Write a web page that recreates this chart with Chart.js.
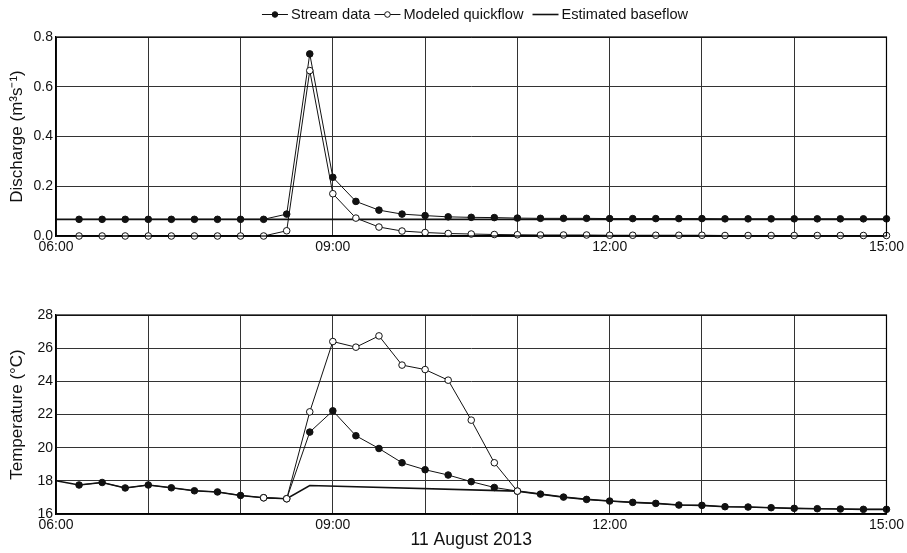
<!DOCTYPE html>
<html>
<head>
<meta charset="utf-8">
<script src="https://cdn.jsdelivr.net/npm/chart.js@4/dist/chart.umd.min.js"></script>
<style>
  html, body { margin: 0; padding: 0; background: #fff; }
  #wrap { position: relative; width: 907px; height: 553px; background: #fff; }
  canvas { position: absolute; left: 0; }
</style>
</head>
<body>
<div id="wrap">
  <canvas id="discharge" width="907" height="270" style="top:0"></canvas>
  <canvas id="temperature" width="907" height="283" style="top:270px"></canvas>
</div>
<script>
// Sampling times (15-minute interval), 11 August 2013
const sampleTimes = ['06:15','06:30','06:45','07:00','07:15','07:30','07:45','08:00','08:15','08:30',
  '08:45','09:00','09:15','09:30','09:45','10:00','10:15','10:30','10:45','11:00',
  '11:15','11:30','11:45','12:00','12:15','12:30','12:45','13:00','13:15','13:30',
  '13:45','14:00','14:15','14:30','14:45','15:00'];

// Discharge (m3 s-1)
const streamDischarge = [0.067,0.067,0.067,0.067,0.067,0.067,0.067,0.067,0.067,0.088,
  0.732,0.236,0.139,0.104,0.088,0.082,0.077,0.075,0.074,0.072,
  0.071,0.071,0.071,0.070,0.070,0.070,0.070,0.070,0.069,0.069,
  0.069,0.069,0.069,0.069,0.069,0.069];
const quickflowDischarge = [0,0,0,0,0,0,0,0,0,0.021,
  0.665,0.170,0.072,0.036,0.020,0.014,0.010,0.008,0.006,0.005,
  0.004,0.004,0.004,0.003,0.003,0.003,0.003,0.003,0.002,0.002,
  0.002,0.002,0.002,0.002,0.002,0.002];
const baseflowDischargeTimes = ['06:00','15:00'];
const baseflowDischarge = [0.067,0.067];

// Temperature (°C)
const streamTemperature = [17.75,17.90,17.57,17.75,17.58,17.40,17.33,17.12,16.98,16.92,
  20.94,22.22,20.72,19.95,19.09,18.67,18.35,17.95,17.60,17.38,
  17.20,17.02,16.88,16.78,16.70,16.64,16.54,16.52,16.44,16.42,
  16.38,16.34,16.32,16.30,16.28,16.28];
const quickflowTempTimes = ['08:15','08:30','08:45','09:00','09:15','09:30','09:45','10:00','10:15','10:30','10:45','11:00'];
const quickflowTemperature = [16.98,16.92,22.16,26.40,26.06,26.74,24.98,24.71,24.07,21.66,19.09,17.38];
const baseflowTempTimes = ['06:00','06:15','06:30','06:45','07:00','07:15','07:30','07:45','08:00','08:15',
  '08:30','08:45','11:00','11:15','11:30','11:45','12:00','12:15','12:30','12:45',
  '13:00','13:15','13:30','13:45','14:00','14:15','14:30','14:45','15:00'];
const baseflowTemperature = [18.00,17.75,17.90,17.57,17.75,17.58,17.40,17.33,17.12,16.98,
  16.92,17.72,17.38,17.20,17.02,16.88,16.78,16.70,16.64,16.54,
  16.52,16.44,16.42,16.38,16.34,16.32,16.30,16.28,16.28];

// Axis ticks
const hourTicks = [6, 7, 8, 9, 10, 11, 12, 13, 14, 15];
const labelledHours = [6, 9, 12, 15];
const dischargeTicks = [0, 0.2, 0.4, 0.6, 0.8];
const temperatureTicks = [16, 18, 20, 22, 24, 26, 28];

const FONT = "'Liberation Sans', Arial, Helvetica, sans-serif";
const INK = '#111';

function toHours(t) {
  const [h, m] = t.split(':').map(Number);
  return h + m / 60;
}
function pairs(times, values) {
  return times.map((t, i) => ({ x: toHours(t), y: values[i] }));
}
function hourLabel(v) {
  return labelledHours.includes(v) ? String(v).padStart(2, '0') + ':00' : '';
}

function series(label, points, kind, order) {
  const base = {
    label, data: points, order, clip: false,
    borderColor: INK, borderWidth: 1, tension: 0,
    pointRadius: 3.3, pointHoverRadius: 3.3, pointBorderWidth: 1, pointBorderColor: INK
  };
  if (kind === 'filled') return Object.assign(base, { pointBackgroundColor: INK });
  if (kind === 'open') return Object.assign(base, { pointBackgroundColor: '#fff' });
  return Object.assign(base, { borderWidth: 1.6, pointRadius: 0, pointHoverRadius: 0 });
}

// Legend drawn across the top of the discharge panel
const legendPlugin = {
  id: 'topLegend',
  afterDraw(chart) {
    const ctx = chart.ctx;
    ctx.save();
    ctx.font = '14.6px ' + FONT;
    ctx.textBaseline = 'middle';
    ctx.fillStyle = INK;
    ctx.strokeStyle = INK;
    const items = [
      { text: 'Stream data', marker: 'filled', lineW: 1 },
      { text: 'Modeled quickflow', marker: 'open', lineW: 1 },
      { text: 'Estimated baseflow', marker: null, lineW: 1.6 }
    ];
    const symW = 26, symGap = 3, itemGap = [4, 9];
    let total = 0;
    items.forEach((it, i) => {
      it.w = ctx.measureText(it.text).width;
      total += symW + symGap + it.w + (i < items.length - 1 ? itemGap[i] : 0);
    });
    let x = 475 - total / 2;
    const y = 14.5;
    items.forEach((it, i) => {
      ctx.lineWidth = it.lineW;
      ctx.beginPath();
      ctx.moveTo(x, y);
      ctx.lineTo(x + symW, y);
      ctx.stroke();
      if (it.marker) {
        ctx.beginPath();
        ctx.arc(x + symW / 2, y, 2.8, 0, Math.PI * 2);
        ctx.fillStyle = it.marker === 'filled' ? INK : '#fff';
        ctx.fill();
        ctx.lineWidth = 1;
        ctx.stroke();
        ctx.fillStyle = INK;
      }
      x += symW + symGap;
      ctx.fillText(it.text, x, y);
      x += it.w + (i < items.length - 1 ? itemGap[i] : 0);
    });
    ctx.restore();
  }
};

function makeChart(id, datasets, yTicks, yTitle, opts) {
  return new Chart(document.getElementById(id), {
    type: 'line',
    data: { datasets },
    plugins: opts.plugins || [],
    options: {
      responsive: false,
      animation: false,
      devicePixelRatio: 1,
      layout: { padding: { left: 0, right: 20, top: opts.top, bottom: 0 } },
      plugins: { legend: { display: false }, tooltip: { enabled: false } },
      scales: {
        x: {
          type: 'linear', min: 6, max: 15,
          afterBuildTicks: s => { s.ticks = hourTicks.map(v => ({ value: v })); },
          afterFit: s => { s.height = opts.xHeight; },
          grid: { color: '#333', lineWidth: 1, drawTicks: false },
          border: { color: '#000', width: 1.2 },
          ticks: {
            autoSkip: false, maxRotation: 0, padding: 3, color: INK,
            font: { family: FONT, size: 14 },
            callback: v => hourLabel(v)
          },
          title: opts.xTitle ? {
            display: true, text: opts.xTitle, color: INK,
            font: { family: FONT, size: 17.5 }, padding: { top: 0, bottom: 2 }
          } : { display: false }
        },
        y: {
          min: yTicks[0], max: yTicks[yTicks.length - 1],
          afterBuildTicks: s => { s.ticks = yTicks.map(v => ({ value: v })); },
          afterFit: s => { s.width = 56; },
          grid: { color: '#333', lineWidth: 1, drawTicks: false },
          border: { color: '#000', width: 1.2 },
          ticks: {
            padding: 3, color: INK,
            font: { family: FONT, size: 14 },
            callback: opts.yFormat
          },
          title: {
            display: true, text: yTitle, color: INK,
            font: { family: FONT, size: 17 }, padding: { top: 7, bottom: 0 }
          }
        }
      }
    }
  });
}

// Right-hand frame line for each panel
const frameRight = {
  id: 'frameRight',
  afterDraw(chart) {
    const { ctx, chartArea: a } = chart;
    ctx.save();
    ctx.strokeStyle = '#000';
    ctx.lineWidth = 1.2;
    ctx.strokeRect(a.left, a.top, a.right - a.left, a.bottom - a.top);
    ctx.restore();
  }
};

makeChart('discharge', [
  series('Modeled quickflow', pairs(sampleTimes, quickflowDischarge), 'open', 0),
  series('Stream data', pairs(sampleTimes, streamDischarge), 'filled', 1),
  series('Estimated baseflow', pairs(baseflowDischargeTimes, baseflowDischarge), 'line', 2)
], dischargeTicks, 'Discharge (m³s⁻¹)', {
  top: 37, xHeight: 34, plugins: [legendPlugin, frameRight],
  yFormat: v => Number(v).toFixed(1)
});

makeChart('temperature', [
  series('Modeled quickflow', pairs(quickflowTempTimes, quickflowTemperature), 'open', 0),
  series('Stream data', pairs(sampleTimes, streamTemperature), 'filled', 1),
  series('Estimated baseflow', pairs(baseflowTempTimes, baseflowTemperature), 'line', 2)
], temperatureTicks, 'Temperature (°C)', {
  top: 45, xHeight: 39, xTitle: '11 August 2013', plugins: [frameRight],
  yFormat: v => String(v)
});
</script>
</body>
</html>
